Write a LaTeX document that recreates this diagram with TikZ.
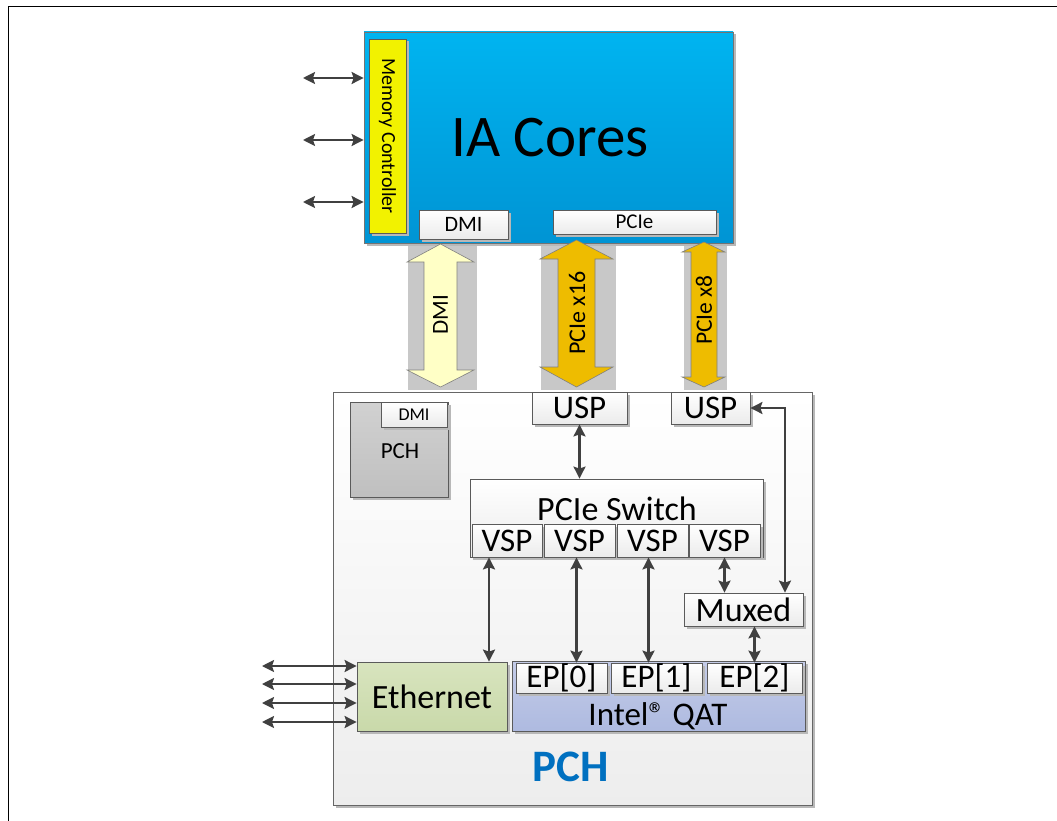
\documentclass[tikz,border=0pt]{standalone}
\usepackage{fontspec}
\setmainfont{Carlito}
\usetikzlibrary{arrows.meta,shadows}
\definecolor{iatop}{HTML}{00B4F0}
\definecolor{iabot}{HTML}{0094D4}
\definecolor{lineg}{HTML}{5A5A5A}
\definecolor{arrowc}{HTML}{404040}
\definecolor{bandc}{HTML}{C8C8C8}
\definecolor{dmiyel}{HTML}{FFFFC6}
\definecolor{gold}{HTML}{EEBC00}
\definecolor{mcyel}{HTML}{F2F200}
\definecolor{ethtop}{HTML}{D8E4BE}
\definecolor{ethbot}{HTML}{C9D9AA}
\definecolor{qattop}{HTML}{C4CCE8}
\definecolor{qatbot}{HTML}{AEBAE0}
\definecolor{pchblue}{HTML}{0070C0}
\definecolor{boxbot}{HTML}{EBEBEB}
\tikzset{
  shad/.style={drop shadow={shadow xshift=2.5bp, shadow yshift=-2.5bp, fill=black!28, opacity=1}},
  wbox/.style={draw=lineg, line width=0.8bp, top color=white, bottom color=boxbot, inner sep=0pt, shad},
  conn/.style={draw=arrowc, line width=2.1bp,
    {Stealth[length=12bp,width=12bp,inset=2bp]}-{Stealth[length=12bp,width=12bp,inset=2bp]}},
  bigarrow/.style={draw=black!50, line width=0.6bp},
  band/.style={fill=bandc, draw=none},
  fs/.style={font=\fontsize{#1bp}{#1bp}\selectfont}
}
\begin{document}
\begin{tikzpicture}[x=1bp,y=-1bp]
\useasboundingbox (0,0) rectangle (1057,821);
% frame
\draw[line width=1.6bp] (8.5,821) -- (8.5,6.5) -- (1057,6.5);

% gray bands behind the big arrows
\fill[band] (408,238) rectangle (477,390);
\fill[band] (541,238) rectangle (616,390);
\fill[band] (684,238) rectangle (727,390);

% IA cores block
\node[draw=black!55, line width=0.8bp, top color=iatop, bottom color=iabot, inner sep=0pt,
      minimum width=369bp, minimum height=211bp, shad, fs=59] (ia) at (548.5,137.5) {\hspace*{3bp}IA Cores};
\node[draw=lineg, line width=0.8bp, fill=mcyel, minimum width=37bp, minimum height=194bp, inner sep=0pt, shad] (mc) at (387.5,136) {};
\node[rotate=-90, fs=20] (mctext) at (mc.center) {Memory Controller};
\node[wbox, minimum width=89bp, minimum height=29bp, fs=22] (dmiport) at (463.5,224.5) {DMI};
\node[wbox, minimum width=163bp, minimum height=24bp, fs=21] (pcieport) at (634.5,222) {PCIe};

% memory arrows
\coordinate (m1) at (303,78);
\coordinate (m2) at (303,140);
\coordinate (m3) at (303,202);
\foreach \m in {m1,m2,m3} \draw[conn] (\m) -- (\m -| ia.west);

% PCH block
\node[draw=black!60, line width=0.8bp, top color=white, bottom color=black!7, inner sep=0pt,
      minimum width=479bp, minimum height=413bp, shad] (pch) at (572.5,598.5) {};
\node[font=\fontsize{45bp}{45bp}\selectfont\bfseries, text=pchblue] (pchlbl) at (571,767) {PCH};

% big arrows
\draw[bigarrow, fill=dmiyel] (440.5,244) -- (474,262) -- (457,262) -- (457,370) -- (474,370)
  -- (440.5,387) -- (407,370) -- (424,370) -- (424,262) -- (407,262) -- cycle;
\draw[bigarrow, fill=gold] (576.5,240) -- (613,259) -- (595,259) -- (595,367) -- (613,367)
  -- (576.5,387) -- (540,367) -- (558,367) -- (558,259) -- (540,259) -- cycle;
\draw[bigarrow, fill=gold] (704,242) -- (725,252) -- (717,252) -- (717,377) -- (725,377)
  -- (704,387) -- (682,377) -- (691,377) -- (691,252) -- (682,252) -- cycle;
\node[rotate=90, fs=23] (dmilink) at (440.5,315) {DMI};
\node[rotate=90, fs=24] (x16link) at (577,313) {PCIe x16};
\node[rotate=90, fs=23.5] (x8link) at (704,310) {PCIe x8};

% small PCH
\node[draw=lineg, line width=0.8bp, top color=black!18, bottom color=black!25, inner sep=0pt,
      minimum width=98bp, minimum height=95bp, shad] (spch) at (399,449.5) {};
\node[fs=23] (spchlbl) at (400,451) {PCH};
\node[wbox, minimum width=66bp, minimum height=25bp, fs=18] (spchdmi) at (414,414.5) {DMI};

% USPs
\node[wbox, minimum width=95bp, minimum height=32bp, fs=33] (usp1) at (579.5,408) {USP};
\node[wbox, minimum width=79bp, minimum height=32bp, fs=33] (usp2) at (710.5,408) {USP};

% PCIe switch
\node[wbox, minimum width=293bp, minimum height=78bp] (sw) at (616.5,518) {};
\node[fs=34] (swlbl) at (617,509) {PCIe Switch};
\node[wbox, minimum width=70bp, minimum height=33bp, fs=33] (vsp1) at (507,540.5) {VSP};
\node[wbox, minimum width=71bp, minimum height=33bp, fs=33] (vsp2) at (579.5,540.5) {VSP};
\node[wbox, minimum width=71bp, minimum height=33bp, fs=33] (vsp3) at (652.5,540.5) {VSP};
\node[wbox, minimum width=71bp, minimum height=33bp, fs=33] (vsp4) at (724.5,540.5) {VSP};

% Muxed
\node[wbox, minimum width=119bp, minimum height=33bp, fs=34] (mux) at (743.5,609.5) {Muxed};

% Ethernet and QAT
\node[draw=lineg, line width=0.8bp, top color=ethtop, bottom color=ethbot, inner sep=0pt,
      minimum width=150bp, minimum height=69bp, shad, fs=34] (eth) at (432,696.5) {Ethernet};
\node[draw=lineg, line width=0.8bp, top color=qattop, bottom color=qatbot, inner sep=0pt,
      minimum width=293bp, minimum height=70bp, shad] (qat) at (658.5,696) {};
\node[fs=33] (qatlbl) at (658,716) {Intel® QAT};
\node[wbox, minimum width=91bp, minimum height=30bp, fs=33] (ep0) at (561.5,678) {EP[0]};
\node[wbox, minimum width=91bp, minimum height=30bp, fs=33] (ep1) at (656.5,678) {EP[1]};
\node[wbox, minimum width=95bp, minimum height=30bp, fs=33] (ep2) at (754.5,678) {EP[2]};

% connectors inside PCH
\draw[conn] (usp1.south) -- (usp1.south |- sw.north);
\draw[conn] (usp2.east) -| ([xshift=41.5bp]mux.north);
\draw[conn] ([xshift=-18bp]vsp1.south) -- ([xshift=-18bp]vsp1.south |- eth.north);
\draw[conn] ([xshift=-3bp]vsp2.south) -- ([xshift=-3bp]vsp2.south |- ep0.north);
\draw[conn] ([xshift=-4bp]vsp3.south) -- ([xshift=-4bp]vsp3.south |- ep1.north);
\draw[conn] (vsp4.south) -- (vsp4.south |- mux.north);
\draw[conn] (ep2.north |- mux.south) -- (ep2.north);

% ethernet arrows
\coordinate (e1) at (262,666);
\coordinate (e2) at (262,684);
\coordinate (e3) at (262,703);
\coordinate (e4) at (262,722);
\foreach \e in {e1,e2,e3,e4} \draw[conn] (\e) -- (\e -| eth.west);
\end{tikzpicture}
\end{document}
